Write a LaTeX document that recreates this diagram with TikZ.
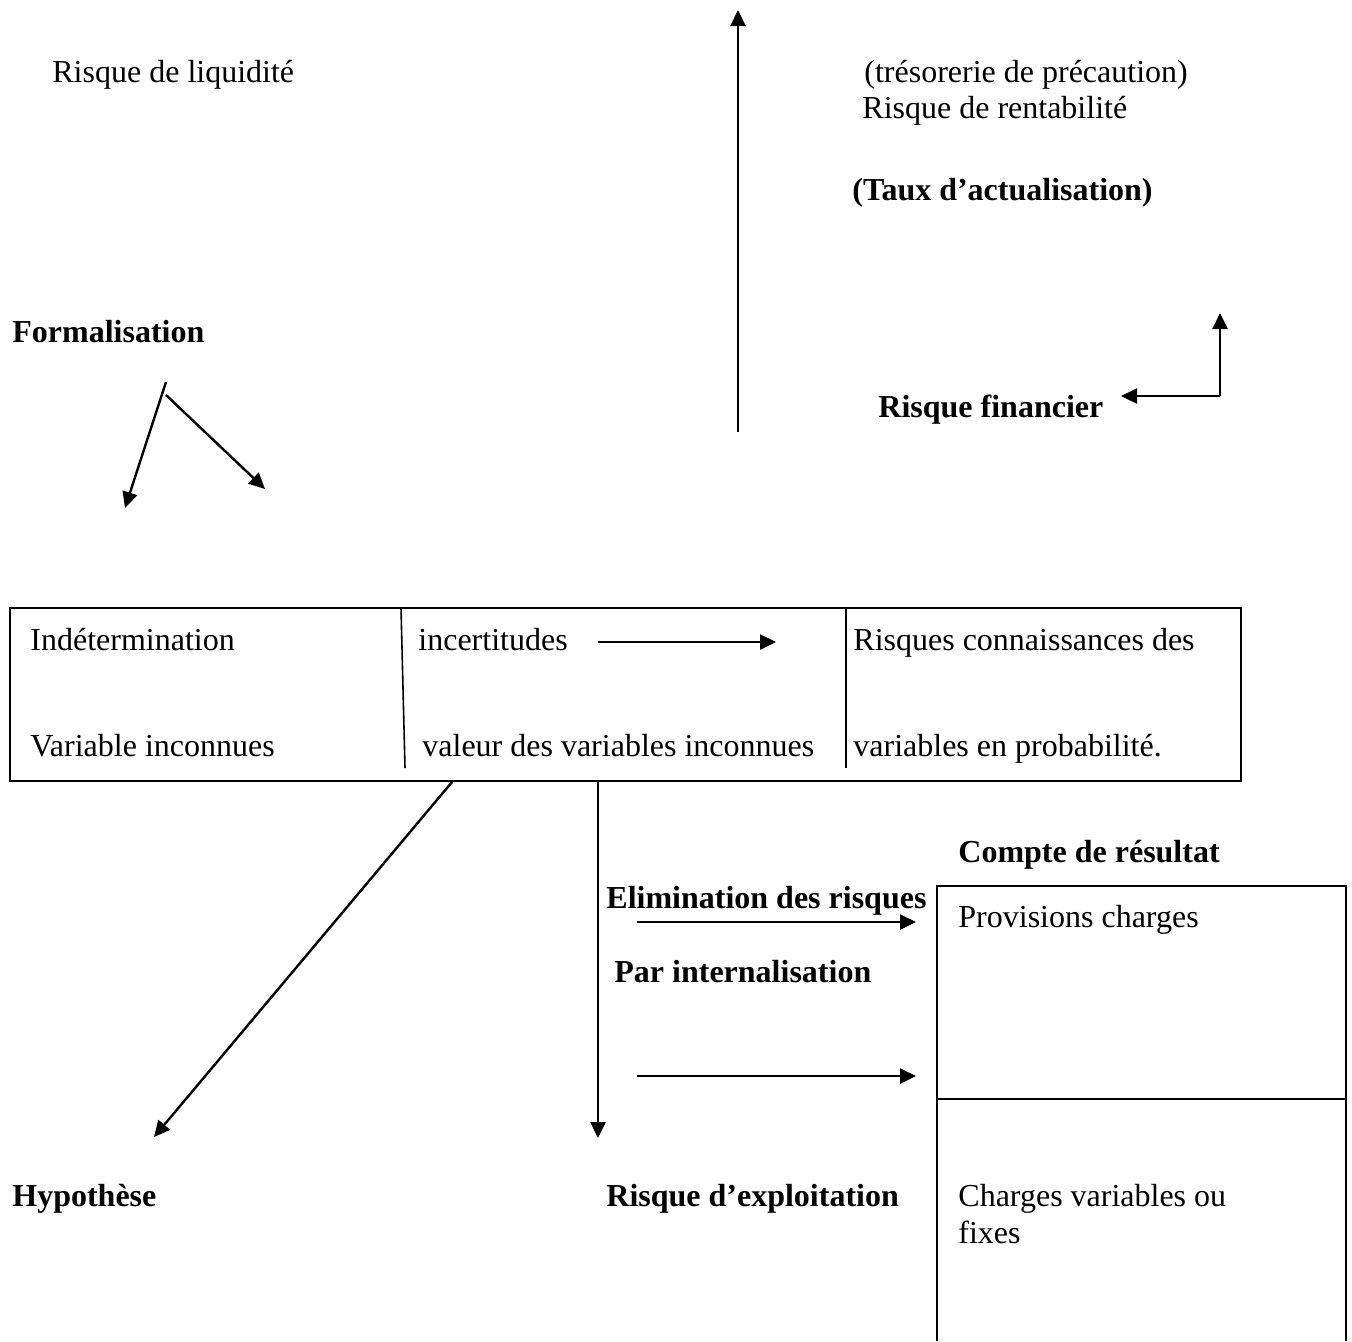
\documentclass[tikz,border=0pt]{standalone}
\usepackage{fontspec}
\setmainfont{Liberation Serif}
\usetikzlibrary{arrows.meta}
\begin{document}
\begin{tikzpicture}[x=0.5pt,y=-0.5pt,
  lbl/.style={anchor=base west,inner sep=0pt,font=\fontsize{16}{18.4}\selectfont},
  blbl/.style={anchor=base west,inner sep=0pt,font=\fontsize{16}{18.4}\selectfont\bfseries},
  conn/.style={line width=1.2pt,-{Triangle[length=8pt,width=7.5pt]}},
  frame/.style={line width=1.2pt},
  divider/.style={line width=0.8pt}]
\useasboundingbox (0,0) rectangle (1352,1341);

% upper labels
\node[lbl]  (liq)   at (52,82)    {Risque de liquidité};
\node[lbl]  (treso) at (864,82)   {(trésorerie de précaution)};
\node[lbl]  (rent)  at (862,118)  {Risque de rentabilité};
\node[blbl] (taux)  at (852,200)  {(Taux d’actualisation)};
\node[blbl] (form)  at (12,342)   {Formalisation};
\node[blbl] (fin)   at (878,417)  {Risque financier};

% central table
\draw[frame] (10,608) rectangle (1241,781);
\draw[divider] (401,608) -- (405,768);
\draw[divider] (846,608) -- (846,768);
\node[lbl] (indet) at (30,650)  {Indétermination};
\node[lbl] (varin) at (30,756)  {Variable inconnues};
\node[lbl] (incer) at (418,650) {incertitudes};
\node[lbl] (valv)  at (422,756) {valeur des variables inconnues};
\node[lbl] (risk)  at (853,650) {Risques connaissances des};
\node[lbl] (varp)  at (853,756) {variables en probabilité.};

% lower labels
\node[blbl] (cpt)   at (958,862)  {Compte de résultat};
\node[blbl] (elim)  at (606,908)  {Elimination des risques};
\node[blbl] (inter) at (614,982)  {Par internalisation};
\node[blbl] (hyp)   at (12,1206)  {Hypothèse};
\node[blbl] (expl)  at (606,1206) {Risque d’exploitation};

% income statement box (open at the bottom)
\draw[divider] (937,1341) -- (937,886) -- (1346,886) -- (1346,1341);
\draw[divider] (937,1099) -- (1346,1099);
\node[lbl] (prov) at (958,927)  {Provisions charges};
\node[lbl] (chv)  at (958,1206) {Charges variables ou};
\node[lbl] (fix)  at (958,1243) {fixes};

% connector end points
\coordinate (vA) at (738,432);  \coordinate (vB) at (738,10);
\coordinate (iA) at (598,642);  \coordinate (iB) at (776,642);
\coordinate (fA) at (166,382);  \coordinate (fB) at (125,508);
\coordinate (gA) at (166,395);  \coordinate (gB) at (265,489);
\coordinate (rC) at (1220,396); \coordinate (rU) at (1220,313);
\coordinate (rL) at (1121,396);
\coordinate (hA) at (452,782);  \coordinate (hB) at (154,1137);
\coordinate (dA) at (598,782);  \coordinate (dB) at (598,1138);
\coordinate (eA) at (637,922);  \coordinate (eB) at (916,922);
\coordinate (xA) at (637,1076); \coordinate (xB) at (916,1076);

% connectors
\draw[conn] (vA) -- (vB);
\draw[conn] (iA) -- (iB);
\draw[conn] (fA) -- (fB);
\draw[conn] (gA) -- (gB);
\draw[conn] (rC) -- (rU);
\draw[conn] (rC) -- (rL);
\draw[conn] (hA) -- (hB);
\draw[conn] (dA) -- (dB);
\draw[conn] (eA) -- (eB);
\draw[conn] (xA) -- (xB);
\end{tikzpicture}
\end{document}
